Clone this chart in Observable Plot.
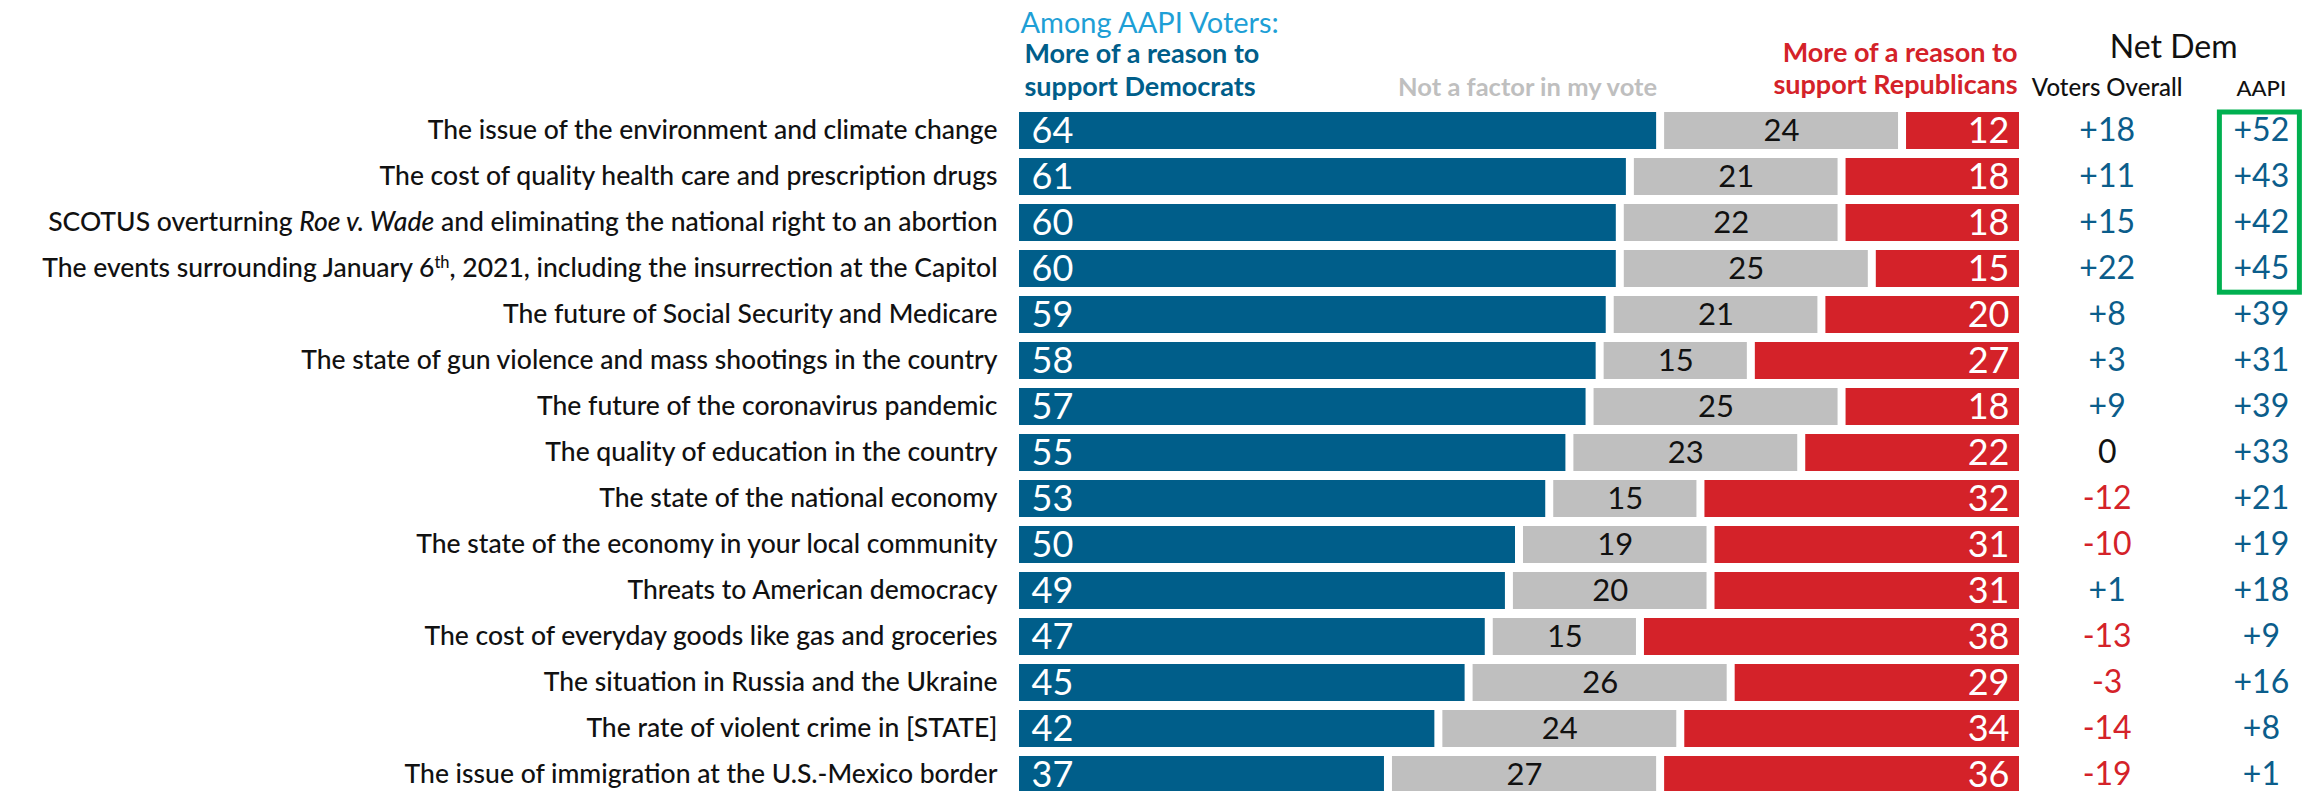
<!DOCTYPE html>
<html><head><meta charset="utf-8">
<script src="https://cdn.jsdelivr.net/npm/d3@7"></script>
<script src="https://cdn.jsdelivr.net/npm/@observablehq/plot@0.6"></script>
<style>
html,body{margin:0;padding:0;background:#fff;}
#chart svg{display:block;}
</style></head><body><div id="chart"></div>
<script>
const topics = [
  "The issue of the environment and climate change",
  "The cost of quality health care and prescription drugs",
  "SCOTUS overturning Roe v. Wade and eliminating the national right to an abortion",
  "The events surrounding January 6th, 2021, including the insurrection at the Capitol",
  "The future of Social Security and Medicare",
  "The state of gun violence and mass shootings in the country",
  "The future of the coronavirus pandemic",
  "The quality of education in the country",
  "The state of the national economy",
  "The state of the economy in your local community",
  "Threats to American democracy",
  "The cost of everyday goods like gas and groceries",
  "The situation in Russia and the Ukraine",
  "The rate of violent crime in [STATE]",
  "The issue of immigration at the U.S.-Mexico border"
];
const dem        = [64, 61, 60, 60, 59, 58, 57, 55, 53, 50, 49, 47, 45, 42, 37];
const notFactor  = [24, 21, 22, 25, 21, 15, 25, 23, 15, 19, 20, 15, 26, 24, 27];
const rep        = [12, 18, 18, 15, 20, 27, 18, 22, 32, 31, 31, 38, 29, 34, 36];
const netOverall = [18, 11, 15, 22, 8, 3, 9, 0, -12, -10, 1, -13, -3, -14, -19];
const netAAPI    = [52, 43, 42, 45, 39, 31, 39, 33, 21, 19, 18, 9, 16, 8, 1];
const highlighted = topics.slice(0, 4);

const FONT = "Lato, 'Open Sans', sans-serif";
const BLUE = "#005e8a", RED = "#d42229", GREY = "#bfbfbf", LIGHTBLUE = "#1e9fd6", GREEN = "#00b050", NETBLUE = "#0b5d8b";

const rows = topics.map((t, i) => ({topic: t, dem: dem[i], nf: notFactor[i], rep: rep[i], netAll: netOverall[i], netAapi: netAAPI[i]}));
const fmt = v => v > 0 ? "+" + v : String(v);

const X_DOMAIN = [0, 100], X_RANGE = [1015, 2023];
const Y_RANGE = [111, 793.3];
const COL_OVERALL = 108.3, COL_AAPI = 123.6;

const yBand = d3.scaleBand().domain(topics).range(Y_RANGE).paddingInner(0.2).paddingOuter(0);

const hdr = (txt, xv, baseline, o) => Plot.text([txt], {x: xv, frameAnchor: "top", dy: baseline, text: d => d, lineAnchor: "bottom", ...o});

function greenBox(index, scales) {
  const cx = scales.x(COL_AAPI);
  const top = yBand(highlighted[0]) - 1.5;
  const bottom = yBand(highlighted[highlighted.length - 1]) + yBand.bandwidth() + 8.5;
  const sw = 5;
  const g = d3.create("svg:g");
  g.append("rect")
    .attr("x", cx - 44 + sw / 2).attr("y", top + sw / 2)
    .attr("width", 85 - sw).attr("height", bottom - top - sw)
    .attr("fill", "none").attr("stroke", GREEN).attr("stroke-width", sw);
  return g.node();
}

const chart = Plot.plot({
  width: 2323, height: 791,
  marginTop: 0, marginBottom: 0, marginLeft: 0, marginRight: 0,
  style: {fontFamily: FONT, background: "#fff", overflow: "visible"},
  x: {domain: X_DOMAIN, range: X_RANGE, axis: null},
  y: {domain: topics, range: Y_RANGE, paddingInner: 0.2, paddingOuter: 0, axis: null},
  marks: [
    Plot.barX(rows, {x1: 0, x2: "dem", y: "topic", fill: BLUE, insetLeft: 4, insetRight: 4}),
    Plot.barX(rows, {x1: "dem", x2: d => d.dem + d.nf, y: "topic", fill: GREY, insetLeft: 4, insetRight: 4}),
    Plot.barX(rows, {x1: d => d.dem + d.nf, x2: d => d.dem + d.nf + d.rep, y: "topic", fill: RED, insetLeft: 4, insetRight: 4}),
    Plot.text(rows, {x: 0, y: "topic", text: "topic", textAnchor: "end", dx: -18, fontSize: 26.5, fill: "#111", fontWeight: 500}),
    Plot.text(rows, {x: 0, y: "topic", text: d => String(d.dem), textAnchor: "start", dx: 16, fontSize: 36, fill: "#fff"}),
    Plot.text(rows, {x: d => d.dem + d.nf / 2, y: "topic", text: d => String(d.nf), fontSize: 31, fill: "#111"}),
    Plot.text(rows, {x: d => d.dem + d.nf + d.rep, y: "topic", text: d => String(d.rep), textAnchor: "end", dx: -14, fontSize: 36, fill: "#fff"}),
    Plot.text(rows.filter(d => d.netAll > 0), {x: COL_OVERALL, y: "topic", text: d => fmt(d.netAll), fontSize: 32, fill: NETBLUE}),
    Plot.text(rows.filter(d => d.netAll < 0), {x: COL_OVERALL, y: "topic", text: d => fmt(d.netAll), fontSize: 32, fill: RED}),
    Plot.text(rows.filter(d => d.netAll === 0), {x: COL_OVERALL, y: "topic", text: d => fmt(d.netAll), fontSize: 32, fill: "#111"}),
    Plot.text(rows, {x: COL_AAPI, y: "topic", text: d => fmt(d.netAapi), fontSize: 32, fill: NETBLUE}),
    greenBox,
    hdr("Among AAPI Voters:", 0, 32, {textAnchor: "start", dx: 5, fontSize: 29, fill: LIGHTBLUE}),
    hdr("More of a reason to\nsupport Democrats", 0, 95, {textAnchor: "start", dx: 9, fontSize: 27, lineHeight: 1.2, fill: BLUE, fontWeight: 700}),
    hdr("Not a factor in my vote", 50.8, 95, {fontSize: 25.5, fill: GREY, fontWeight: 700}),
    hdr("More of a reason to\nsupport Republicans", 100, 93, {textAnchor: "end", dx: -6, fontSize: 27, lineHeight: 1.15, fill: RED, fontWeight: 700}),
    hdr("Net Dem", 114.9, 57, {fontSize: 32, fill: "#111"}),
    hdr("Voters Overall", COL_OVERALL, 95, {fontSize: 24, fill: "#111", fontWeight: 500}),
    hdr("AAPI", COL_AAPI, 95, {fontSize: 22, fill: "#111", fontWeight: 500})
  ]
});

// rich text: italics for case name, superscript ordinal
d3.select(chart).selectAll("text").each(function() {
  const t = this.textContent;
  const el = d3.select(this);
  if (t === topics[2]) {
    el.text(null);
    el.append("tspan").text("SCOTUS overturning ");
    el.append("tspan").attr("font-style", "italic").text("Roe v. Wade");
    el.append("tspan").text(" and eliminating the national right to an abortion");
  } else if (t === topics[3]) {
    el.text(null);
    el.append("tspan").text("The events surrounding January 6");
    el.append("tspan").attr("font-size", "0.62em").attr("dy", "-0.55em").text("th");
    el.append("tspan").attr("dy", "0.34em").text(", 2021, including the insurrection at the Capitol");
  }
});

document.getElementById("chart").appendChild(chart);
</script>
</body></html>
